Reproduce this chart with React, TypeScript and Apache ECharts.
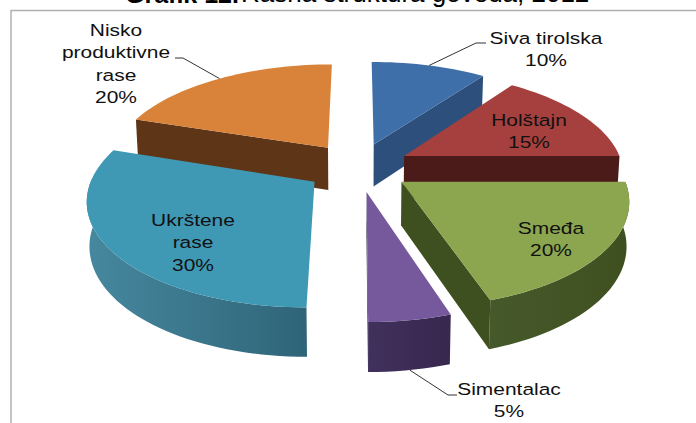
import React, { useEffect, useRef } from "react";
import * as echarts from "echarts";

const categories = ["Siva tirolska", "Holštajn", "Smeđa", "Simentalac", "Ukrštene rase", "Nisko produktivne rase"];
const shareValues = [10, 15, 20, 5, 30, 20];
const drawOrder = [5, 0, 1, 4, 3, 2];
const topColors = ["#3f6fa8", "#a6403f", "#8ba64f", "#75599c", "#3f98b4", "#d9823a"];
const sideDark = ["#2c4f7c", "#4a1b19", "#3f5020", "#38284f", "#2f6478", "#5f3517"];
const sideLight = ["#345c8e", "#4a1b19", "#46592a", "#40305c", "#46889f", "#5f3517"];
const labelLines = [
  ["Siva tirolska", "10%"],
  ["Holštajn", "15%"],
  ["Smeđa", "20%"],
  ["Simentalac", "5%"],
  ["Ukrštene", "rase", "30%"],
  ["Nisko", "produktivne", "rase", "20%"],
];
const labelCenters = [
  [546, 38],
  [529, 120],
  [551, 228],
  [509, 389],
  [193, 220],
  [116, 30],
];
const titleBold = "Grafik 12.";
const titleRest = "Rasna struktura goveda, 2012";

const CX = 358, CY = 167, RX = 219, RY = 101.6, PERSP = 0.153, EXPLODE = 0.24, DEPTH = 43;
const rad = (d: number) => (d * Math.PI) / 180;

function project(mid: number, ang: number, r: number, down: boolean): number[] {
  const gx = Math.sin(rad(mid)) * EXPLODE + r * Math.sin(rad(ang));
  const gy = -Math.cos(rad(mid)) * EXPLODE - r * Math.cos(rad(ang));
  const s = 1 / (1 - PERSP * gy);
  const x = CX + RX * gx * s;
  const y = CY + RY * gy * s;
  if (!down) return [x, y];
  return [CX + (x - CX) * 0.99, y + DEPTH * (1 + (s - 1) * 0.7)];
}

function sliceAngles(i: number) {
  const total = shareValues.reduce((a, b) => a + b, 0);
  let acc = 0;
  for (let k = 0; k < i; k++) acc += shareValues[k];
  const a0 = (acc / total) * 360;
  const a1 = ((acc + shareValues[i]) / total) * 360;
  return { a0, a1, mid: (a0 + a1) / 2 };
}

function arcPoints(mid: number, a: number, b: number, down: boolean) {
  const pts: number[][] = [];
  const n = Math.max(2, Math.ceil(Math.abs(b - a) / 2));
  for (let k = 0; k <= n; k++) pts.push(project(mid, a + ((b - a) * k) / n, 1, down));
  return pts;
}

function renderSlice(_: any, api: any) {
  const i = api.value(0);
  const { a0, a1, mid } = sliceAngles(i);
  const apexT = project(mid, 0, 0, false);
  const apexB = project(mid, 0, 0, true);
  const children: any[] = [];
  const grad = {
    type: "linear", x: 0, y: 0, x2: 1, y2: 0,
    colorStops: [{ offset: 0, color: sideLight[i] }, { offset: 1, color: sideDark[i] }],
  };
  // outer wall: front-facing part of the arc
  const w0 = Math.max(a0, 90), w1 = Math.min(a1, 272);
  if (w1 > w0) {
    const t = arcPoints(mid, w0, w1, false);
    const b = arcPoints(mid, w0, w1, true);
    children.push({ type: "polygon", shape: { points: [...t, ...b.reverse()] }, style: { fill: grad } });
  }
  // radial faces turned towards the viewer
  const faces: number[] = [];
  if (Math.cos(rad(a0 - 90)) < 0) faces.push(a0);
  if (Math.cos(rad(a1 + 90)) < 0) faces.push(a1);
  if (i === 5) faces.push(a0);
  for (const f of Array.from(new Set(faces))) {
    children.push({
      type: "polygon",
      shape: { points: [apexT, project(mid, f, 1, false), project(mid, f, 1, true), apexB] },
      style: { fill: sideDark[i] },
    });
  }
  children.push({
    type: "polygon",
    shape: { points: [apexT, ...arcPoints(mid, a0, a1, false)] },
    style: { fill: topColors[i] },
  });
  return { type: "group", children };
}

function renderLabel(_: any, api: any) {
  const i = api.value(0);
  const [cx, cy] = labelCenters[i];
  const children: any[] = labelLines[i].map((line, k) => ({
    type: "text",
    x: cx,
    y: cy + k * 22.5,
    scaleX: 1.27,
    style: {
      text: line,
      fontFamily: "Liberation Sans",
      fontSize: 16.5,
      fill: "#111111",
      align: "center",
      verticalAlign: "middle",
    },
  }));
  const { mid } = sliceAngles(i);
  const leader = (pts: number[][]) =>
    children.push({ type: "polyline", shape: { points: pts }, style: { stroke: "#333333", lineWidth: 1, fill: "none" } });
  if (i === 0) leader([[486, 43], [476, 43], project(mid, mid, 1, false)]);
  else if (i === 3) leader([[457, 395], [448, 395], project(mid, mid, 1, true)]);
  else if (i === 5) leader([[175, 58], [183, 58], project(mid, mid, 1, false)]);
  return { type: "group", children };
}

export default function App() {
  const ref = useRef<HTMLDivElement>(null);
  useEffect(() => {
    const chart = echarts.init(ref.current!, undefined, { renderer: "svg" });
    chart.setOption({
      animation: false,
      backgroundColor: "#ffffff",
      title: [
        {
          left: 125, top: -19, padding: 0, text: titleBold,
          textStyle: { fontFamily: "Liberation Sans", fontWeight: "bold", fontSize: 25, color: "#000000" },
        },
        {
          left: 241, top: -20, padding: 0, text: titleRest,
          textStyle: { fontFamily: "Liberation Sans", fontWeight: "normal", fontSize: 26, color: "#000000" },
        },
      ],
      graphic: [
        { type: "line", silent: true, shape: { x1: 11, y1: 10.5, x2: 696, y2: 10.5 }, style: { stroke: "#b0b0b0", lineWidth: 1.5 } },
        { type: "line", silent: true, shape: { x1: 11, y1: 10, x2: 11, y2: 423 }, style: { stroke: "#b0b0b0", lineWidth: 1.5 } },
      ],
      series: [
        {
          type: "custom",
          coordinateSystem: "none",
          name: "Rasna struktura",
          silent: true,
          renderItem: renderSlice,
          data: drawOrder.map((i) => [i, shareValues[i], categories[i]]),
          z: 2,
        },
        {
          type: "custom",
          coordinateSystem: "none",
          silent: true,
          renderItem: renderLabel,
          data: shareValues.map((v, i) => [i, v]),
          z: 3,
        },
      ],
    });
    return () => chart.dispose();
  }, []);
  return <div ref={ref} style={{ position: "fixed", left: 0, top: 0, width: 696, height: 423 }} />;
}
